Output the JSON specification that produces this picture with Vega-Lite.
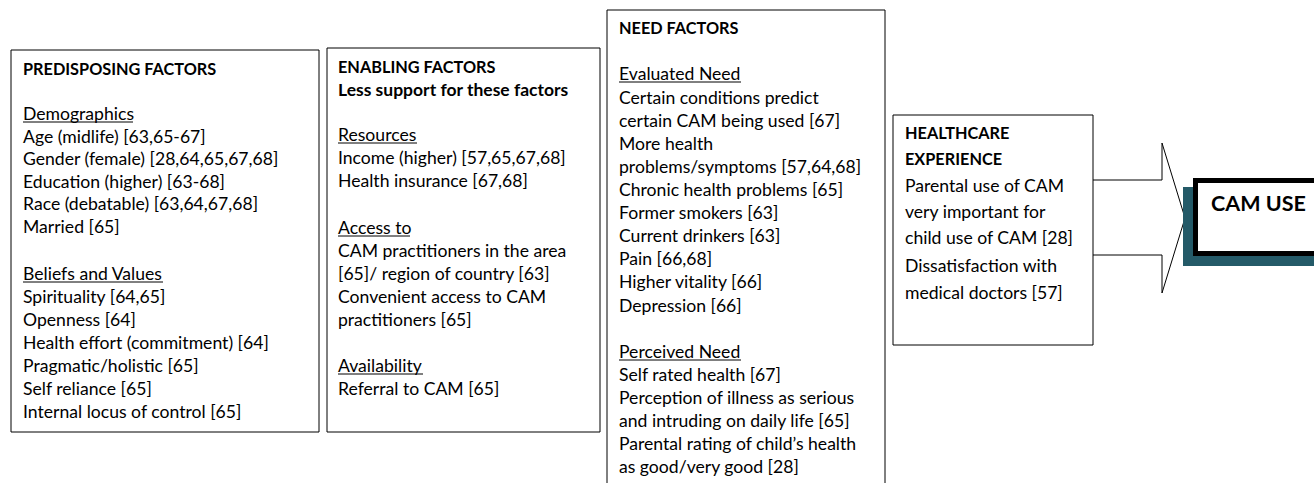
{
  "$schema": "https://vega.github.io/schema/vega-lite/v6.json",
  "width": 1314,
  "height": 483,
  "autosize": {"type": "fit", "contains": "padding"},
  "padding": 0,
  "background": "white",
  "config": {"view": {"stroke": null}},
  "datasets": {
    "boxes": [
      {"name": "Predisposing", "x": 11, "x2": 319, "y": 50, "y2": 432},
      {"name": "Enabling", "x": 327, "x2": 600, "y": 48, "y2": 432},
      {"name": "Need", "x": 607, "x2": 885, "y": 10, "y2": 495},
      {"name": "Healthcare", "x": 893, "x2": 1093, "y": 115, "y2": 345}
    ],
    "arrow": [
      {"i": 1, "x": 1093, "y": 180},
      {"i": 2, "x": 1162, "y": 180},
      {"i": 3, "x": 1162, "y": 143},
      {"i": 4, "x": 1185, "y": 218},
      {"i": 5, "x": 1162, "y": 293},
      {"i": 6, "x": 1162, "y": 255},
      {"i": 7, "x": 1093, "y": 255}
    ],
    "shadow": [{"x": 1183, "x2": 1320, "y": 187, "y2": 266}],
    "outcome": [{"x": 1195.5, "x2": 1320, "y": 180.5, "y2": 253.5}],
    "headers": [
      {"t": "PREDISPOSING FACTORS", "x": 23, "y": 70},
      {"t": "ENABLING FACTORS", "x": 338, "y": 68},
      {"t": "NEED FACTORS", "x": 619, "y": 29},
      {"t": "HEALTHCARE", "x": 905, "y": 134},
      {"t": "EXPERIENCE", "x": 905, "y": 160}
    ],
    "subheaders": [
      {"t": "Less support for these factors", "x": 338, "y": 91}
    ],
    "lines": [
      {"t": "Demographics", "x": 23, "y": 115},
      {"t": "Age (midlife) [63,65-67]", "x": 23, "y": 138},
      {"t": "Gender (female) [28,64,65,67,68]", "x": 23, "y": 160},
      {"t": "Education (higher) [63-68]", "x": 23, "y": 183},
      {"t": "Race (debatable) [63,64,67,68]", "x": 23, "y": 205},
      {"t": "Married [65]", "x": 23, "y": 228},
      {"t": "Beliefs and Values", "x": 23, "y": 275},
      {"t": "Spirituality [64,65]", "x": 23, "y": 298},
      {"t": "Openness [64]", "x": 23, "y": 321},
      {"t": "Health effort (commitment) [64]", "x": 23, "y": 344},
      {"t": "Pragmatic/holistic [65]", "x": 23, "y": 367},
      {"t": "Self reliance [65]", "x": 23, "y": 390},
      {"t": "Internal locus of control [65]", "x": 23, "y": 413},
      {"t": "Resources", "x": 338, "y": 136},
      {"t": "Income (higher) [57,65,67,68]", "x": 338, "y": 159},
      {"t": "Health insurance [67,68]", "x": 338, "y": 182},
      {"t": "Access to", "x": 338, "y": 229},
      {"t": "CAM practitioners in the area", "x": 338, "y": 252},
      {"t": "[65]/ region of country [63]", "x": 338, "y": 275},
      {"t": "Convenient access to CAM", "x": 338, "y": 298},
      {"t": "practitioners [65]", "x": 338, "y": 321},
      {"t": "Availability", "x": 338, "y": 367},
      {"t": "Referral to CAM [65]", "x": 338, "y": 390},
      {"t": "Evaluated Need", "x": 619, "y": 75},
      {"t": "Certain conditions predict", "x": 619, "y": 99},
      {"t": "certain CAM being used [67]", "x": 619, "y": 122},
      {"t": "More health", "x": 619, "y": 145},
      {"t": "problems/symptoms [57,64,68]", "x": 619, "y": 168},
      {"t": "Chronic health problems [65]", "x": 619, "y": 191},
      {"t": "Former smokers [63]", "x": 619, "y": 214},
      {"t": "Current drinkers [63]", "x": 619, "y": 237},
      {"t": "Pain [66,68]", "x": 619, "y": 260},
      {"t": "Higher vitality [66]", "x": 619, "y": 283},
      {"t": "Depression [66]", "x": 619, "y": 307},
      {"t": "Perceived Need", "x": 619, "y": 353},
      {"t": "Self rated health [67]", "x": 619, "y": 376},
      {"t": "Perception of illness as serious", "x": 619, "y": 399},
      {"t": "and intruding on daily life [65]", "x": 619, "y": 422},
      {"t": "Parental rating of child’s health", "x": 619, "y": 445},
      {"t": "as good/very good [28]", "x": 619, "y": 468},
      {"t": "Parental use of CAM", "x": 905, "y": 187},
      {"t": "very important for", "x": 905, "y": 213},
      {"t": "child use of CAM [28]", "x": 905, "y": 239},
      {"t": "Dissatisfaction with", "x": 905, "y": 267},
      {"t": "medical doctors [57]", "x": 905, "y": 294}
    ],
    "underlines": [
      {"x": 23, "x2": 133, "y": 122},
      {"x": 23, "x2": 163, "y": 282},
      {"x": 338, "x2": 417, "y": 143},
      {"x": 338, "x2": 410, "y": 236},
      {"x": 338, "x2": 423, "y": 374},
      {"x": 619, "x2": 741, "y": 82},
      {"x": 619, "x2": 741, "y": 360}
    ],
    "title": [{"t": "CAM USE", "x": 1211, "y": 205}]
  },
  "layer": [
    {
      "data": {"name": "boxes"},
      "mark": {"type": "rect", "fill": "white", "stroke": "#000000", "strokeWidth": 1, "clip": true},
      "encoding": {
        "x": {"field": "x", "type": "quantitative", "scale": {"domain": [0, 1314], "nice": false, "zero": false}, "axis": null},
        "x2": {"field": "x2"},
        "y": {"field": "y", "type": "quantitative", "scale": {"domain": [0, 483], "nice": false, "zero": false, "reverse": true}, "axis": null},
        "y2": {"field": "y2"}
      }
    },
    {
      "data": {"name": "arrow"},
      "mark": {"type": "line", "stroke": "#000000", "strokeWidth": 1, "clip": true},
      "encoding": {
        "x": {"field": "x", "type": "quantitative"},
        "y": {"field": "y", "type": "quantitative"},
        "order": {"field": "i", "type": "quantitative"}
      }
    },
    {
      "data": {"name": "shadow"},
      "mark": {"type": "rect", "fill": "#245a68", "clip": true},
      "encoding": {
        "x": {"field": "x", "type": "quantitative"},
        "x2": {"field": "x2"},
        "y": {"field": "y", "type": "quantitative"},
        "y2": {"field": "y2"}
      }
    },
    {
      "data": {"name": "outcome"},
      "mark": {"type": "rect", "fill": "white", "stroke": "#000000", "strokeWidth": 5, "clip": true},
      "encoding": {
        "x": {"field": "x", "type": "quantitative"},
        "x2": {"field": "x2"},
        "y": {"field": "y", "type": "quantitative"},
        "y2": {"field": "y2"}
      }
    },
    {
      "data": {"name": "underlines"},
      "mark": {"type": "rule", "stroke": "#000000", "strokeWidth": 1},
      "encoding": {
        "x": {"field": "x", "type": "quantitative"},
        "x2": {"field": "x2"},
        "y": {"field": "y", "type": "quantitative"}
      }
    },
    {
      "data": {"name": "headers"},
      "mark": {"type": "text", "align": "left", "baseline": "middle", "font": "Lato", "fontSize": 16.3, "fontWeight": "bold", "fill": "#000000"},
      "encoding": {
        "x": {"field": "x", "type": "quantitative"},
        "y": {"field": "y", "type": "quantitative"},
        "text": {"field": "t"}
      }
    },
    {
      "data": {"name": "subheaders"},
      "mark": {"type": "text", "align": "left", "baseline": "middle", "font": "Lato", "fontSize": 17.5, "fontWeight": "bold", "fill": "#000000"},
      "encoding": {
        "x": {"field": "x", "type": "quantitative"},
        "y": {"field": "y", "type": "quantitative"},
        "text": {"field": "t"}
      }
    },
    {
      "data": {"name": "lines"},
      "mark": {"type": "text", "align": "left", "baseline": "middle", "font": "Lato", "fontSize": 17.6, "fill": "#000000"},
      "encoding": {
        "x": {"field": "x", "type": "quantitative"},
        "y": {"field": "y", "type": "quantitative"},
        "text": {"field": "t"}
      }
    },
    {
      "data": {"name": "title"},
      "mark": {"type": "text", "align": "left", "baseline": "middle", "font": "Lato", "fontSize": 21.5, "fontWeight": "bold", "fill": "#000000", "clip": true},
      "encoding": {
        "x": {"field": "x", "type": "quantitative"},
        "y": {"field": "y", "type": "quantitative"},
        "text": {"field": "t"}
      }
    }
  ]
}
